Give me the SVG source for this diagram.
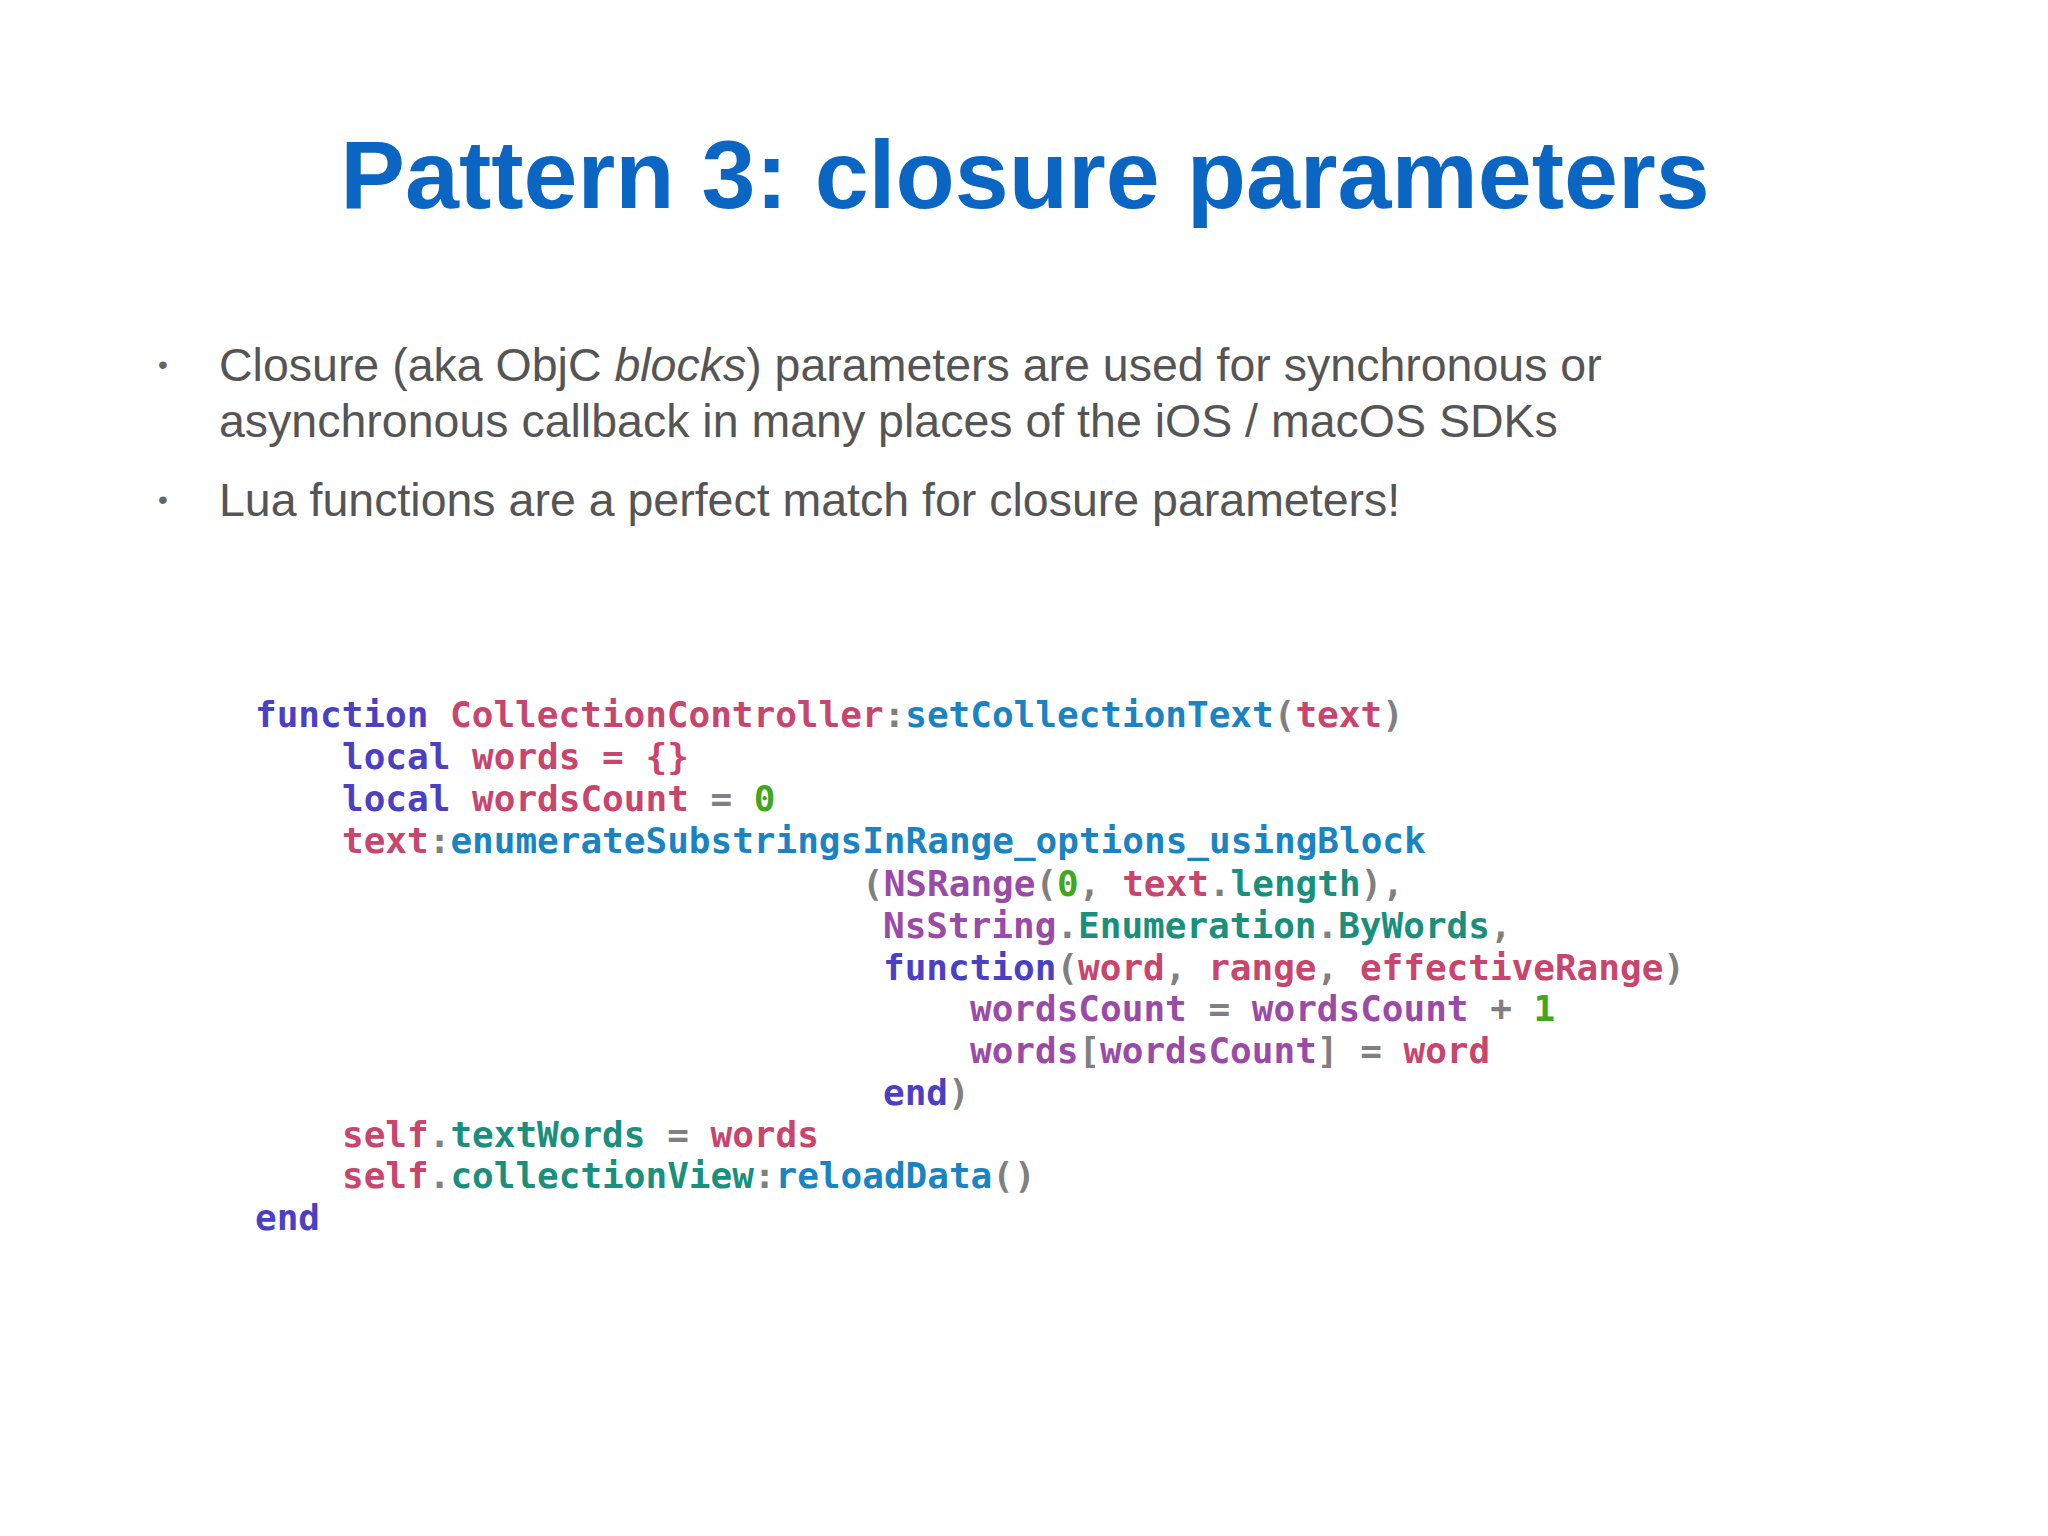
<svg xmlns="http://www.w3.org/2000/svg" width="2048" height="1536" viewBox="0 0 2048 1536">
<style>
.t{font-family:"Liberation Sans",Arial,sans-serif;font-weight:bold;font-size:97px;fill:#0a66c2}
.b{font-family:"Liberation Sans",Arial,sans-serif;font-size:46.5px;fill:#555}
.d{font-family:"Liberation Sans",Arial,sans-serif;font-size:28px;fill:#666}
.c{font-family:"DejaVu Sans Mono",monospace;font-weight:bold;font-size:36px;fill:#808080;white-space:pre}
.k{fill:#4b3fc4}.r{fill:#c8456e}.m{fill:#1a84c2}.n{fill:#3fa81c}.e{fill:#198f7c}.p{fill:#9a4ba8}.g{fill:#808080}
</style>
<rect width="2048" height="1536" fill="#ffffff"/>
<g id="title"><text class="t" x="1025" y="208" text-anchor="middle">Pattern 3: closure parameters</text></g>
<g id="bullets">
<text class="d" x="158" y="374">•</text>
<text class="b" x="219" y="381">Closure (aka ObjC <tspan font-style="italic">blocks</tspan>) parameters are used for synchronous or</text>
<text class="b" x="219" y="437">asynchronous callback in many places of the iOS / macOS SDKs</text>
<text class="d" x="158" y="509">•</text>
<text class="b" x="219" y="516">Lua functions are a perfect match for closure parameters!</text>
</g>
<g id="code" class="c">
<text x="255" y="727"><tspan class="k">function</tspan> <tspan class="r">CollectionController</tspan>:<tspan class="m">setCollectionText</tspan>(<tspan class="r">text</tspan>)</text>
<text x="342" y="769"><tspan class="k">local</tspan> <tspan class="r">words = {}</tspan></text>
<text x="342" y="811"><tspan class="k">local</tspan> <tspan class="r">wordsCount</tspan> = <tspan class="n">0</tspan></text>
<text x="342" y="853"><tspan class="r">text</tspan>:<tspan class="m">enumerateSubstringsInRange_options_usingBlock</tspan></text>
<text x="862" y="896">(<tspan class="p">NSRange</tspan>(<tspan class="n">0</tspan>, <tspan class="r">text</tspan>.<tspan class="e">length</tspan>),</text>
<text x="883" y="938"><tspan class="p">NsString</tspan>.<tspan class="e">Enumeration</tspan>.<tspan class="e">ByWords</tspan>,</text>
<text x="883" y="980"><tspan class="k">function</tspan>(<tspan class="r">word</tspan>, <tspan class="r">range</tspan>, <tspan class="r">effectiveRange</tspan>)</text>
<text x="970" y="1021"><tspan class="p">wordsCount</tspan> = <tspan class="p">wordsCount</tspan> + <tspan class="n">1</tspan></text>
<text x="970" y="1063"><tspan class="p">words</tspan>[<tspan class="p">wordsCount</tspan>] = <tspan class="r">word</tspan></text>
<text x="883" y="1105"><tspan class="k">end</tspan>)</text>
<text x="342" y="1147"><tspan class="r">self</tspan>.<tspan class="e">textWords</tspan> = <tspan class="r">words</tspan></text>
<text x="342" y="1188"><tspan class="r">self</tspan>.<tspan class="e">collectionView</tspan>:<tspan class="m">reloadData</tspan>()</text>
<text x="255" y="1230"><tspan class="k">end</tspan></text>
</g>
</svg>
